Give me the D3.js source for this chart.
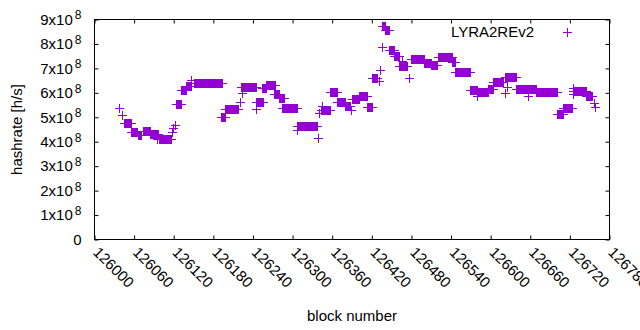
<!DOCTYPE html>
<html lang="en">
<head>
  <meta charset="utf-8">
  <title>LYRA2REv2 hashrate</title>
  <script src="https://d3js.org/d3.v7.min.js"></script>
  <style>
    body { margin: 0; background: #fff; }
    svg { display: block; font-family: "Liberation Sans", Arial, sans-serif; }
    .tick line, .border { stroke: #000; }
    .tick text { fill: #000; font-size: 15px; }
    .mark { stroke: #9400d3; stroke-width: 1; fill: none; shape-rendering: crispEdges; }
  </style>
</head>
<body>
<script>
  // runs of consecutive blocks sharing one hashrate estimate (block offsets from 126000, value in 1e8 h/s)
  const runStart = [37, 41, 44, 56, 66, 74, 84, 95, 97, 117, 119, 122, 124, 131, 139, 146, 151,
    191, 198, 220, 222, 223, 245, 245, 253, 260, 272, 280, 284, 307, 307, 338, 340, 343, 345,
    357, 367, 380, 388, 390, 400, 413, 421, 431, 433, 435, 435, 440, 446, 453, 461, 465, 476,
    479, 496, 499, 510, 521, 541, 546, 569, 580, 581, 596, 603, 621, 622, 624, 639, 656, 657,
    669, 701, 710, 725, 725, 725, 745, 756, 758];
  const runEnd = [37, 41, 55, 65, 71, 84, 96, 95, 116, 117, 119, 122, 131, 139, 146, 146, 193,
    198, 218, 220, 245, 223, 255, 245, 260, 273, 280, 287, 307, 307, 337, 338, 340, 357, 345,
    367, 379, 387, 388, 400, 413, 420, 428, 431, 433, 435, 440, 446, 453, 461, 474, 465, 476,
    496, 499, 510, 519, 541, 546, 569, 579, 580, 596, 603, 619, 621, 639, 624, 657, 656, 669,
    701, 710, 723, 725, 725, 745, 753, 756, 758];
  const runValue = [5.40, 5.10, 4.77, 4.40, 4.28, 4.42, 4.32, 4.10, 4.13, 4.41, 4.56, 4.69, 5.55,
    6.10, 6.27, 6.53, 6.40, 5.03, 5.33, 5.64, 6.23, 5.99, 5.64, 5.33, 6.20, 6.31, 5.96, 5.78,
    5.38, 4.50, 4.63, 4.16, 5.17, 5.30, 5.47, 6.05, 5.64, 5.47, 5.31, 5.75, 5.88, 5.42, 6.62,
    6.48, 6.92, 7.88, 8.72, 8.57, 7.77, 7.51, 7.11, 7.30, 6.62, 7.37, 7.40, 7.21, 7.15, 7.47,
    7.25, 6.85, 6.12, 5.85, 6.02, 6.15, 6.46, 5.99, 6.64, 6.24, 6.15, 5.85, 6.14, 6.03, 5.14,
    5.40, 6.20, 5.96, 6.08, 5.88, 5.58, 5.41];
  const baseBlock = 126000;
  const xTicks = d3.range(126000, 126781, 60);
  const yTicks = d3.range(0, 9.01e8, 1e8);
  const seriesName = "LYRA2REv2";

  const width = 640, height = 330;
  const svg = d3.select("body").append("svg").attr("width", width).attr("height", height);

  const x = d3.scaleLinear().domain([126000, 126780]).range([94.5, 609.5]);
  const y = d3.scaleLinear().domain([0, 9e8]).range([239.5, 19.5]);

  // expand runs into one point per block
  const points = [];
  runStart.forEach((s, i) => {
    d3.range(s, runEnd[i] + 1).forEach(b => points.push({ block: baseBlock + b, value: runValue[i] * 1e8 }));
  });

  const plus = (cx, cy) => `M${Math.round(cx) - 4},${Math.round(cy) + 0.5}h9M${Math.round(cx) + 0.5},${Math.round(cy) - 4}v9`;

  svg.append("g").selectAll("path").data(points).join("path")
    .attr("class", "mark")
    .attr("d", d => plus(x(d.block), y(d.value)));

  // axes, ticks pointing inward, mirrored on top and right
  const gx = svg.append("g").attr("transform", `translate(0,${y.range()[0]})`)
    .call(d3.axisBottom(x).tickValues(xTicks).tickSize(-4).tickFormat(d3.format("d")));
  gx.select(".domain").remove();
  gx.selectAll("text")
    .attr("x", 0).attr("y", 0).attr("dy", "0.35em")
    .attr("text-anchor", "start")
    .attr("transform", "translate(1,10) rotate(45)");

  svg.append("g").attr("transform", `translate(0,${y.range()[1]})`)
    .call(d3.axisTop(x).tickValues(xTicks).tickSize(-4).tickFormat(""))
    .select(".domain").remove();

  const gy = svg.append("g").attr("transform", `translate(${x.range()[0]},0)`)
    .call(d3.axisLeft(y).tickValues(yTicks).tickSize(-4).tickPadding(13));
  gy.select(".domain").remove();
  gy.selectAll("text").each(function (d) {
    const t = d3.select(this).text(null);
    if (d === 0) { t.text("0"); return; }
    t.append("tspan").text(`${d / 1e8}x10`);
    t.append("tspan").attr("dy", "-0.45em").attr("dx", "2").style("font-size", "12px").text("8");
  });

  svg.append("g").attr("transform", `translate(${x.range()[1]},0)`)
    .call(d3.axisRight(y).tickValues(yTicks).tickSize(-4).tickFormat(""))
    .select(".domain").remove();

  svg.append("rect").attr("class", "border")
    .attr("x", x.range()[0]).attr("y", y.range()[1])
    .attr("width", x.range()[1] - x.range()[0]).attr("height", y.range()[0] - y.range()[1])
    .attr("fill", "none");

  // axis titles
  svg.append("text")
    .attr("transform", `translate(22,${(y.range()[0] + y.range()[1]) / 2}) rotate(-90)`)
    .attr("text-anchor", "middle").style("font-size", "15px")
    .text("hashrate [h/s]");
  svg.append("text")
    .attr("x", (x.range()[0] + x.range()[1]) / 2).attr("y", 321)
    .attr("text-anchor", "middle").style("font-size", "15px")
    .text("block number");

  // legend
  svg.append("text").attr("x", 534).attr("y", 37)
    .attr("text-anchor", "end").style("font-size", "15px").text(seriesName);
  svg.append("path").attr("class", "mark").attr("d", plus(567, 32));
</script>
</body>
</html>
